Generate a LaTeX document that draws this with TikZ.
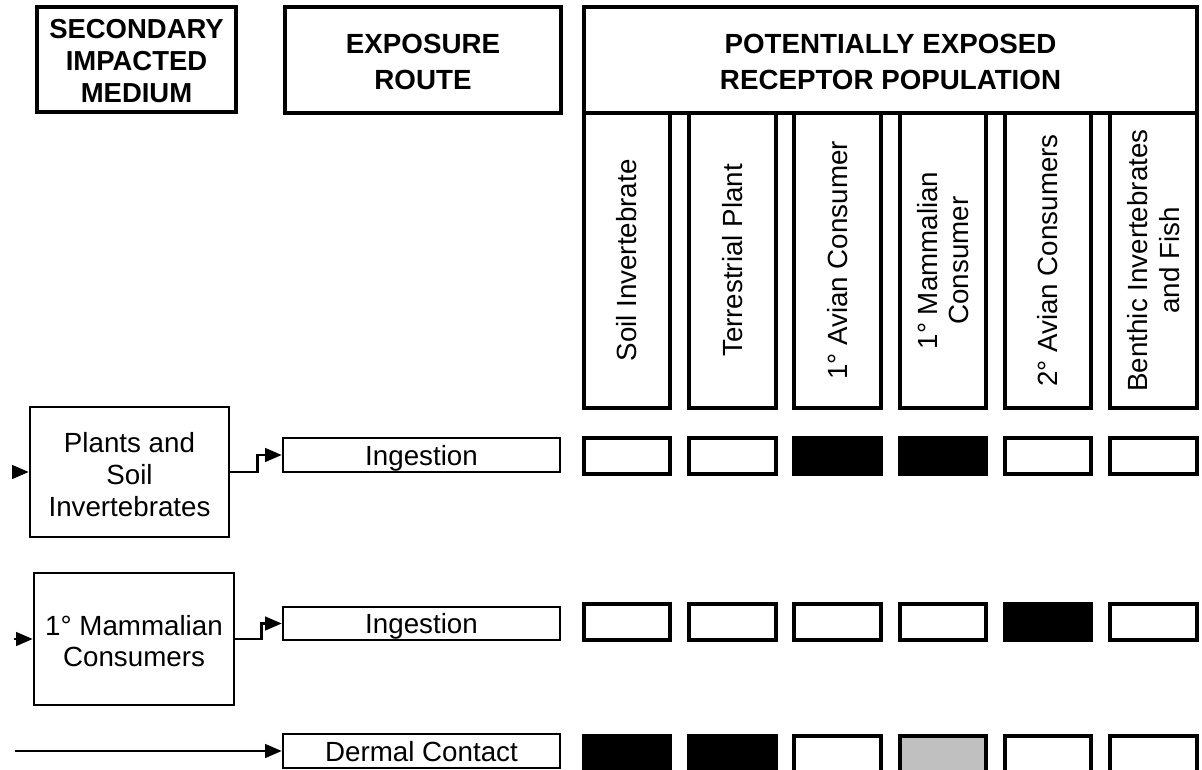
\documentclass[tikz,border=0pt]{standalone}
\usepackage{fontspec}
\setmainfont{Liberation Sans}
\usetikzlibrary{fit,arrows.meta}
\definecolor{cellgray}{RGB}{192,192,192}
\begin{document}
\begin{tikzpicture}[x=0.75pt,y=-0.75pt,
  font=\fontsize{20.8}{23.8}\selectfont,
  hdr/.style={draw, line width=2.5pt, inner sep=0pt},
  colbox/.style={draw, line width=2.5pt, inner sep=0pt},
  medbox/.style={draw, line width=1.7pt, inner sep=0pt},
  txt/.style={align=center, inner sep=0pt},
  oneline/.style={inner sep=0pt, anchor=base},
  cell/.style={draw, line width=2.6pt, inner sep=0pt, fill=white},
  blk/.style={cell, fill=black},
  gry/.style={cell, fill=cellgray},
  arr/.style={line width=2.2pt, -{Triangle[length=12.5pt,width=10pt]}},
  vtext/.style={rotate=90, align=center, inner sep=0pt}
]
\useasboundingbox (0,0) rectangle (1202,770);

% headers
\node[hdr, line width=3pt, fit={(37,7) (236,112)}] (hsec) {};
\node[txt, font=\bfseries\fontsize{20.6}{24}\selectfont] (tsec) at ([yshift=-1.5pt]hsec.center) {SECONDARY\\IMPACTED\\MEDIUM};
\node[hdr, fit={(285,7) (561,113)}] (hexp) {};
\node[txt, font=\bfseries\fontsize{20.8}{26.5}\selectfont] (texp) at ([yshift=-1.5pt]hexp.center) {EXPOSURE\\ROUTE};
\node[hdr, fit={(584,7) (1197,113)}] (hpop) {};
\node[txt, font=\bfseries\fontsize{20.8}{27}\selectfont] (tpop) at ([yshift=-1.5pt]hpop.center) {POTENTIALLY EXPOSED\\RECEPTOR POPULATION};

% receptor columns
\node[colbox, fit={(584,113) (670,408)}] (c1) {};
\node[colbox, fit={(689,113) (776,408)}] (c2) {};
\node[colbox, fit={(794,113) (881,408)}] (c3) {};
\node[colbox, fit={(900,113) (986,408)}] (c4) {};
\node[colbox, fit={(1005,113) (1091,408)}] (c5) {};
\node[colbox, fit={(1110,113) (1197,408)}] (c6) {};
\node[vtext] (t1) at (c1.center) {Soil Invertebrate};
\node[vtext] (t2) at (c2.center) {Terrestrial Plant};
\node[vtext] (t3) at (c3.center) {1° Avian Consumer};
\node[vtext] (t4) at (c4.center) {1° Mammalian\\Consumer};
\node[vtext] (t5) at (c5.center) {2° Avian Consumers};
\node[vtext] (t6) at (c6.center) {Benthic Invertebrates\\and Fish};

% secondary media
\node[medbox, fit={(30,407) (229,537)}] (p1) {};
\node[txt] (tp1) at ([yshift=-2pt]p1.center) {Plants and\\Soil\\Invertebrates};
\node[medbox, fit={(34,573) (234,705)}] (m1) {};
\node[txt] (tm1) at ([yshift=-1.5pt]m1.center) {1° Mammalian\\Consumers};

% exposure routes
\node[medbox, fit={(283,438) (560,472)}] (ing1) {};
\node[oneline] (ting1) at ([yshift=-7.6pt]ing1.center) {Ingestion};
\node[medbox, fit={(283,607) (560,640)}] (ing2) {};
\node[oneline] (ting2) at ([yshift=-7.4pt]ing2.center) {Ingestion};
\node[medbox, fit={(283,734) (560,768)}] (derm) {};
\node[oneline] (tderm) at ([yshift=-7.6pt]derm.center) {Dermal Contact};

% row 1 cells
\node[cell, fit={(584,438) (670,474)}] (r1c1) {};
\node[cell, fit={(689,438) (776,474)}] (r1c2) {};
\node[blk,  fit={(794,438) (881,474)}] (r1c3) {};
\node[blk,  fit={(900,438) (986,474)}] (r1c4) {};
\node[cell, fit={(1005,438) (1091,474)}] (r1c5) {};
\node[cell, fit={(1110,438) (1197,474)}] (r1c6) {};
% row 2 cells
\node[cell, fit={(584,604) (670,640)}] (r2c1) {};
\node[cell, fit={(689,604) (776,640)}] (r2c2) {};
\node[cell, fit={(794,604) (881,640)}] (r2c3) {};
\node[cell, fit={(900,604) (986,640)}] (r2c4) {};
\node[blk,  fit={(1005,604) (1091,640)}] (r2c5) {};
\node[cell, fit={(1110,604) (1197,640)}] (r2c6) {};
% row 3 cells
\node[blk,  fit={(584,736) (670,774)}] (r3c1) {};
\node[blk,  fit={(689,736) (776,774)}] (r3c2) {};
\node[cell, fit={(794,736) (881,774)}] (r3c3) {};
\node[gry,  fit={(900,736) (986,774)}] (r3c4) {};
\node[cell, fit={(1005,736) (1091,774)}] (r3c5) {};
\node[cell, fit={(1110,736) (1197,774)}] (r3c6) {};

% connectors
\coordinate (in1) at (12,472);
\coordinate (in2) at (14,639);
\coordinate (in3) at (15,751);
\draw[arr] (in1) -- (p1.west);
\draw[arr] (in2) -- (m1.west);
\draw[arr] (in3) -- (derm.west);
\draw[arr] (p1.east) -- ++(27,0) |- (ing1.west);
\draw[arr] (m1.east) -- ++(26,0) |- (ing2.west);
\end{tikzpicture}
\end{document}
